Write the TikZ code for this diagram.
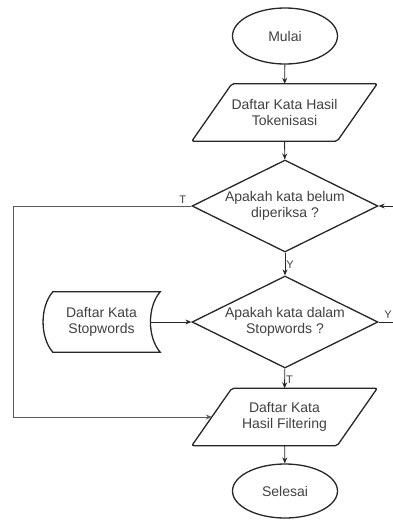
\documentclass[tikz,border=0pt]{standalone}
\usepackage{fontspec}
\setmainfont{Liberation Sans}
\usetikzlibrary{shapes.geometric,arrows.meta,calc}
\begin{document}
\begin{tikzpicture}[x=1pt,y=-1pt,
  every node/.style={font=\fontsize{14}{16}\selectfont, text=black!75, align=center},
  outl/.style={draw=black!85, line width=1.3pt},
  term/.style={outl, ellipse, minimum width=105pt, minimum height=56pt, inner sep=0pt},
  dec/.style={outl, diamond, aspect=2, minimum width=186pt, minimum height=92pt, inner sep=0pt},
  frame/.style={rectangle, inner sep=0pt},
  arr/.style={draw=black!85, line width=0.9pt, -{Stealth[length=6pt,width=5pt]}},
  lbl/.style={font=\fontsize{11}{11}\selectfont, inner sep=1pt},
]
\useasboundingbox (0,0) rectangle (392,520);

\node[term] (mulai) at (285,36) {Mulai};
\node[frame, minimum width=185pt, minimum height=57pt] (p1) at (284.5,112.5) {Daftar Kata Hasil\\Tokenisasi};
\draw[outl, rounded corners=2pt] ($(p1.north west)+(40,0)$) -- (p1.north east) -- ($(p1.south east)+(-40,0)$) -- (p1.south west) -- cycle;

\node[dec] (d1) at (285,206) {Apakah kata belum\\diperiksa ?};
\node[dec] (d2) at (285,322) {Apakah kata dalam\\Stopwords ?};

\node[frame, minimum width=117pt, minimum height=60pt] (sw) at (101.5,322) {Daftar Kata\\Stopwords};
\draw[outl] ($(sw.north west)+(10,0)$) -- (sw.north east)
  .. controls ($(sw.north east)+(-13,15)$) and ($(sw.south east)+(-13,-15)$) .. (sw.south east)
  -- ($(sw.south west)+(10,0)$)
  .. controls ($(sw.south west)+(-3,-15)$) and ($(sw.north west)+(-3,15)$) .. ($(sw.north west)+(10,0)$) -- cycle;

\node[frame, minimum width=185pt, minimum height=57pt] (p2) at (284.5,417) {Daftar Kata\\Hasil Filtering};
\draw[outl, rounded corners=2pt] ($(p2.north west)+(40,0)$) -- (p2.north east) -- ($(p2.south east)+(-40,0)$) -- (p2.south west) -- cycle;

\node[term, minimum height=54pt] (selesai) at (285,491) {Selesai};

\coordinate (swr) at ($(sw.east)+(-10,0)$);
\coordinate (p2l) at ($(p2.west)+(20,0)$);
\coordinate (lt) at (13,206);
\coordinate (lb) at (13,417);
\coordinate (rb) at (393,322);
\coordinate (rt) at (393,206);

\draw[arr] (mulai) -- (p1);
\draw[arr] (p1) -- (d1);
\draw[arr] (d1) -- node[lbl, anchor=west, pos=0.55]{Y} (d2);
\draw[arr] (d2) -- node[lbl, anchor=west, pos=0.55]{T} (p2);
\draw[arr] (p2) -- (selesai);
\draw[arr] (swr) -- (d2.west);
\draw[arr, draw=black!65] (d1.west) -- (lt) -- (lb) -- (p2l);
\draw[arr] (d2.east) -- (rb) -- (rt) -- (d1.east);

\node[lbl, anchor=south east] (tl) at ($(d1.west)+(-4,-1)$) {T};
\node[lbl, anchor=south] (yr) at (388,320) {Y};
\end{tikzpicture}
\end{document}
